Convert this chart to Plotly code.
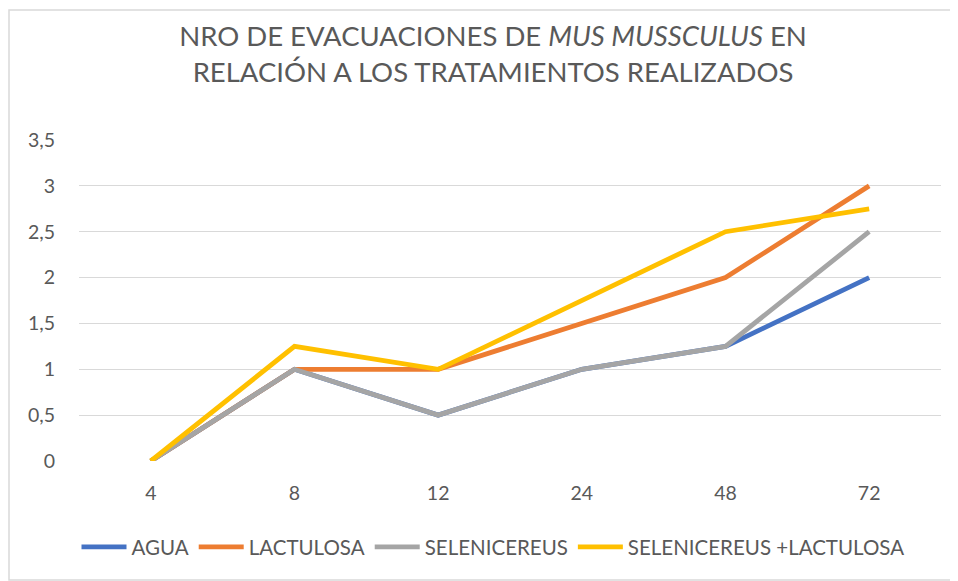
import plotly.graph_objects as go

horas = ["4", "8", "12", "24", "48", "72"]
agua = [0, 1, 0.5, 1, 1.25, 2]
lactulosa = [0, 1, 1, 1.5, 2, 3]
selenicereus = [0, 1, 0.5, 1, 1.25, 2.5]
sel_lact = [0, 1.25, 1, 1.75, 2.5, 2.75]

series = [
    ("AGUA", agua, "#4472C4"),
    ("LACTULOSA", lactulosa, "#ED7D31"),
    ("SELENICEREUS", selenicereus, "#A5A5A5"),
    ("SELENICEREUS +LACTULOSA", sel_lact, "#FFC000"),
]

fig = go.Figure()
for name, vals, col in series:
    fig.add_trace(go.Scatter(x=horas, y=vals, name=name, mode="lines",
                             line=dict(color=col, width=4.8)))

font = "Lato, 'Open Sans', sans-serif"
L, T, R, B = 71, 132, 25, 128
PW, PH = 958 - L - R, 581 - T - B
fig.update_layout(
    width=958, height=581,
    paper_bgcolor="white", plot_bgcolor="white",
    margin=dict(l=L, r=R, t=T, b=B, autoexpand=False),
    font=dict(family=font, color="#595959", size=18),
    title=dict(text="NRO DE EVACUACIONES DE <i>MUS MUSSCULUS</i> EN<br>RELACIÓN A LOS TRATAMIENTOS REALIZADOS",
               x=(485 - L) / PW, xanchor="center", xref="paper", y=0.934, yanchor="top",
               font=dict(size=27.5, color="#595959", family=font)),
    xaxis=dict(type="category", range=[-0.5, 5.5], showgrid=False, showline=False,
               zeroline=False, ticks="outside", ticklen=15, tickcolor="rgba(0,0,0,0)",
               tickfont=dict(size=19.5, color="#595959")),
    yaxis=dict(range=[0, 3.5], dtick=0.5, showgrid=True, gridcolor="#d9d9d9", gridwidth=1.3,
               zeroline=False, showline=False, ticks="outside", ticklen=19,
               tickcolor="rgba(0,0,0,0)",
               tickfont=dict(size=19.5, color="#595959")),
    separators=",.",
    legend=dict(orientation="h", x=(485 - L) / PW, xanchor="center", y=-86 / PH, yanchor="middle",
                font=dict(size=20.5, color="#595959"), itemwidth=45, tracegroupgap=0),
    showlegend=True,
)
fig.add_shape(type="rect", xref="paper", yref="paper",
              x0=(1 - L) / PW, x1=(947 - L) / PW, y0=-(572 - T - PH) / PH, y1=1 + (T - 2) / PH,
              line=dict(color="#d9d9d9", width=1.5))
fig.write_html("out.html")
